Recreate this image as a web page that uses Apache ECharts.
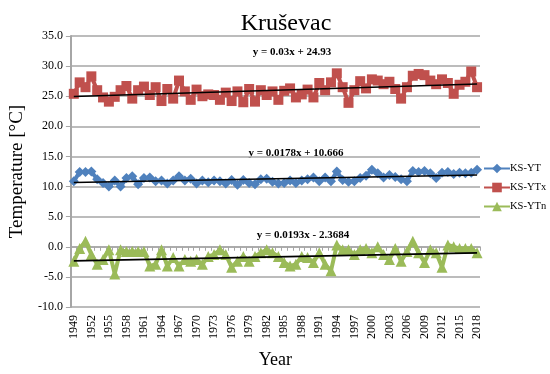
<!DOCTYPE html>
<html>
<head>
<meta charset="utf-8">
<script src="https://cdn.jsdelivr.net/npm/echarts@6/dist/echarts.min.js"></script>
<style>
  html, body { margin: 0; padding: 0; background: #fff; }
  #chart { width: 550px; height: 374px; }
</style>
</head>
<body>
<div id="chart"></div>
<script>
// Annual temperatures, Kruševac station, 1949–2018
const years = [
  '1949','1950','1951','1952','1953','1954','1955','1956','1957','1958',
  '1959','1960','1961','1962','1963','1964','1965','1966','1967','1968',
  '1969','1970','1971','1972','1973','1974','1975','1976','1977','1978',
  '1979','1980','1981','1982','1983','1984','1985','1986','1987','1988',
  '1989','1990','1991','1992','1993','1994','1995','1996','1997','1998',
  '1999','2000','2001','2002','2003','2004','2005','2006','2007','2008',
  '2009','2010','2011','2012','2013','2014','2015','2016','2017','2018'
];

// mean annual temperature
const ksYT = [
  10.9, 12.4, 12.4, 12.5, 11.2, 10.6, 10.0, 11.0, 10.0, 11.4,
  11.7, 10.4, 11.4, 11.5, 10.9, 11.0, 10.5, 11.0, 11.7, 11.0,
  11.3, 10.5, 11.0, 10.7, 11.0, 10.9, 10.5, 11.1, 10.3, 11.1,
  10.6, 10.4, 11.2, 11.3, 10.8, 10.5, 10.6, 11.0, 10.6, 11.0,
  11.2, 11.5, 10.9, 11.5, 10.9, 12.5, 11.1, 10.8, 10.9, 11.4,
  11.8, 12.8, 12.2, 11.5, 11.9, 11.6, 11.2, 10.9, 12.6, 12.4,
  12.6, 12.2, 11.4, 12.3, 12.4, 12.1, 12.3, 12.2, 12.3, 12.8
];

// mean of annual maxima
const ksYTx = [
  25.4, 27.3, 26.5, 28.3, 26.0, 24.8, 24.1, 24.9, 26.0, 26.7,
  24.6, 26.0, 26.6, 25.2, 26.5, 24.2, 26.2, 24.6, 27.6, 25.8,
  24.4, 26.1, 25.0, 25.3, 25.2, 24.4, 25.6, 24.2, 25.8, 24.0,
  26.2, 24.1, 26.0, 25.2, 25.8, 24.4, 25.9, 26.3, 24.8, 25.3,
  26.1, 24.8, 27.2, 26.0, 27.3, 28.8, 26.5, 23.9, 26.0, 27.5,
  26.3, 27.8, 27.6, 27.0, 27.4, 26.2, 24.6, 26.5, 28.4, 28.7,
  28.5, 27.6, 27.0, 27.8, 27.2, 25.4, 26.9, 27.4, 29.1, 26.5
];

// mean of annual minima
const ksYTn = [
  -2.4, -0.3,  0.9, -1.3, -2.9, -2.1, -0.5, -4.5, -0.5, -0.8,
  -0.8, -0.8, -0.8, -3.2, -2.9, -0.5, -3.2, -1.8, -3.2, -2.1,
  -2.4, -2.1, -2.9, -1.6, -1.3, -0.5, -1.3, -3.4, -2.4, -1.6,
  -2.4, -1.6, -1.0, -0.5, -1.0, -1.6, -2.6, -3.2, -2.9, -1.6,
  -1.8, -2.6, -1.0, -2.9, -4.0,  0.3, -0.5, -0.5, -1.3, -0.5,
  -0.3, -1.0,  0.0, -1.3, -2.1, -0.3, -2.4, -0.8,  0.9, -1.0,
  -2.6, -0.5, -1.0, -3.4,  0.3,  0.0, -0.3, -0.3, -0.3, -1.0
];

// linear trend coefficients (x = 1 … 70)
const seriesNames = ['KS-YT', 'KS-YTx', 'KS-YTn'];
const trendSlope = [0.0178, 0.03, 0.0193];
const trendIntercept = [10.666, 24.93, -2.3684];
const trendLabels = ['y = 0.0178x + 10.666', 'y = 0.03x + 24.93', 'y = 0.0193x - 2.3684'];

// value-axis ticks
const yMin = -10, yMax = 35, yStep = 5;

const colors = ['#4F81BD', '#C0504D', '#9BBB59'];
const symbols = ['diamond', 'rect', 'triangle'];
const symbolSizes = [10, 10, 11];
const serif = "'Times New Roman', 'Liberation Serif', serif";
const gridGray = '#A6A6A6';

const dataSets = [ksYT, ksYTx, ksYTn];

const chart = echarts.init(document.getElementById('chart'));

const series = [];
dataSets.forEach((d, k) => {
  series.push({
    name: seriesNames[k],
    type: 'line',
    xAxisIndex: 0,
    data: d,
    symbol: symbols[k],
    symbolSize: symbolSizes[k],
    showAllSymbol: true,
    itemStyle: { color: colors[k] },
    lineStyle: { color: colors[k], width: 4 },
    z: 3 + k
  });
});

// trend lines, drawn from the regression coefficients
dataSets.forEach((d, k) => {
  const n = d.length;
  series.push({
    name: 'trend-' + seriesNames[k],
    type: 'line',
    xAxisIndex: 0,
    data: [
      [0, trendIntercept[k] + trendSlope[k] * 1],
      [n - 1, trendIntercept[k] + trendSlope[k] * n]
    ],
    symbol: 'none',
    silent: true,
    lineStyle: { color: '#000', width: 1.6 },
    z: 10
  });
});

// equation labels sit just above each group of curves
const eqPos = [[296, 153], [292, 52], [303, 235]];
const graphics = trendLabels.map((t, k) => ({
  type: 'text',
  x: eqPos[k][0],
  y: eqPos[k][1],
  style: {
    text: t,
    font: 'bold 11px ' + serif,
    fill: '#000',
    textAlign: 'center',
    textVerticalAlign: 'middle'
  }
}));

chart.setOption({
  animation: false,
  backgroundColor: '#fff',
  title: {
    text: 'Kruševac',
    left: 281,
    top: 7,
    textAlign: 'center',
    textStyle: { fontFamily: serif, fontSize: 24, fontWeight: 'normal', color: '#000' }
  },
  legend: {
    data: seriesNames,
    orient: 'vertical',
    left: 483,
    top: 163,
    padding: 0,
    itemWidth: 26,
    itemHeight: 12,
    itemGap: 8,
    textStyle: { fontFamily: serif, fontSize: 10.5, color: '#000', padding: [0, 0, 0, -5] }
  },
  grid: { left: 62, right: 70, top: 36, bottom: 55, containLabel: false },
  xAxis: [
    {
      type: 'category',
      data: years,
      position: 'bottom',
      boundaryGap: true,
      axisLine: { show: false, onZero: false },
      axisTick: { show: false },
      axisLabel: {
        interval: 2,
        rotate: 90,
        margin: 8,
        fontFamily: serif,
        fontSize: 12,
        color: '#000'
      },
      name: 'Year',
      nameLocation: 'middle',
      nameGap: 44,
      nameTextStyle: { fontFamily: serif, fontSize: 18, color: '#000' }
    },
    {
      type: 'category',
      data: years,
      position: 'bottom',
      boundaryGap: true,
      axisLine: { show: true, onZero: true, lineStyle: { color: gridGray, width: 1.5 } },
      axisTick: { show: true, interval: 0, length: 4, lineStyle: { color: gridGray } },
      axisLabel: { show: false },
      splitLine: { show: false }
    }
  ],
  yAxis: {
    type: 'value',
    min: yMin,
    max: yMax,
    interval: yStep,
    axisLine: { show: true, lineStyle: { color: gridGray, width: 2 } },
    axisTick: { show: true, length: 5, lineStyle: { color: gridGray } },
    axisLabel: {
      formatter: v => v.toFixed(1),
      fontFamily: serif,
      fontSize: 12,
      color: '#000',
      margin: 8
    },
    splitLine: { show: true, lineStyle: { color: gridGray, width: 1.5 } },
    name: 'Temperature [°C]',
    nameLocation: 'middle',
    nameGap: 40,
    nameTextStyle: { fontFamily: serif, fontSize: 19, color: '#000' }
  },
  graphic: graphics,
  series: series
});
</script>
</body>
</html>
